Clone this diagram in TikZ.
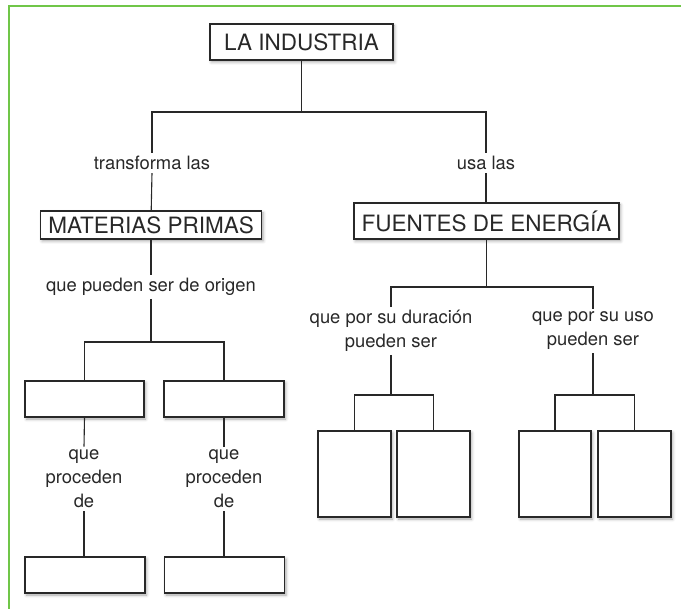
\documentclass[tikz,border=0pt]{standalone}
\usepackage{fontspec}
\setmainfont{TeX Gyre Heros}
\usetikzlibrary{shadows.blur}
\definecolor{framegreen}{RGB}{112,198,72}
\definecolor{ink}{RGB}{40,40,40}
\begin{document}
\begin{tikzpicture}[x=1pt,y=-1pt,
  titlebox/.style={draw=ink, line width=1.1pt, fill=white, inner sep=0pt,
    font=\fontsize{22.5}{24}\selectfont, text=ink,
    blur shadow={shadow xshift=1.5pt, shadow yshift=-2pt, shadow blur radius=3pt, shadow opacity=35}},
  blankbox/.style={titlebox},
  lbl/.style={font=\fontsize{18.4}{24}\selectfont, text=ink, align=center, inner sep=3pt},
  link/.style={draw=ink, line width=1.1pt}]
\useasboundingbox (0,0) rectangle (681,609);
% frame
\draw[framegreen, line width=2pt] (9,609) -- (9,6) -- (681,6);
% nodes
\node[titlebox, minimum width=183pt, minimum height=36pt] (ind) at (301.5,42) {LA INDUSTRIA};
\node[lbl] (t1) at (152,163) {transforma las};
\node[lbl] (t4) at (486,163) {usa las};
\node[titlebox, minimum width=221pt, minimum height=28pt] (mp) at (151.2,225) {MATERIAS PRIMAS};
\node[titlebox, minimum width=265pt, minimum height=36pt] (fe) at (486.5,221) {FUENTES DE ENERGÍA};
\node[lbl] (t2) at (151,287) {que pueden ser de origen};
\node[blankbox, minimum width=119pt, minimum height=36pt] (b1) at (84.5,399) {};
\node[blankbox, minimum width=120pt, minimum height=36pt] (b2) at (224,399) {};
\node[lbl] (t3a) at (84,479) {que\\proceden\\de};
\node[lbl] (t3b) at (224,479) {que\\proceden\\de};
\node[blankbox, minimum width=120pt, minimum height=36pt] (b3) at (85,575) {};
\node[blankbox, minimum width=120pt, minimum height=36pt] (b4) at (224.5,575) {};
\node[lbl] (t5) at (391,331) {que por su duración\\pueden ser};
\node[lbl] (t6) at (593,331) {que por su uso\\pueden ser};
\node[blankbox, minimum width=73pt, minimum height=86pt] (c1) at (354.5,474) {};
\node[blankbox, minimum width=73pt, minimum height=86pt] (c2) at (433.5,474) {};
\node[blankbox, minimum width=72pt, minimum height=86pt] (c3) at (555,474) {};
\node[blankbox, minimum width=73pt, minimum height=86pt] (c4) at (634.5,474) {};
% junctions
\coordinate (j1) at (301.5,112);
\coordinate (j2) at (151,342);
\coordinate (j3) at (486.5,287);
\coordinate (j4) at (391,395);
\coordinate (j5) at (593,395);
% connectors
\draw[link] (ind.south) -- (j1);
\draw[link] (t1.north) |- (j1) -| (t4.north);
\draw[link] (t1.south) -- (mp.north);
\draw[link] (t4.south) -- (t4.south |- fe.north);
\draw[link] (mp.south) -- (mp.south -| t2.north) -- (t2.north);
\draw[link] (t2.south) -- (j2);
\draw[link] (b1.north) |- (j2) -| (b2.north);
\draw[link] (b1.south) -- (t3a.north);
\draw[link] (b2.south) -- (t3b.north);
\draw[link] (t3a.south) -- (b3.north -| t3a.south);
\draw[link] (t3b.south) -- (b4.north -| t3b.south);
\draw[link] (fe.south) -- (j3);
\draw[link] (t5.north) |- (j3) -| (t6.north);
\draw[link] (t5.south) -- (j4);
\draw[link] (c1.north) |- (j4) -| (c2.north);
\draw[link] (t6.south) -- (j5);
\draw[link] (c3.north) |- (j5) -| (c4.north);
\end{tikzpicture}
\end{document}
